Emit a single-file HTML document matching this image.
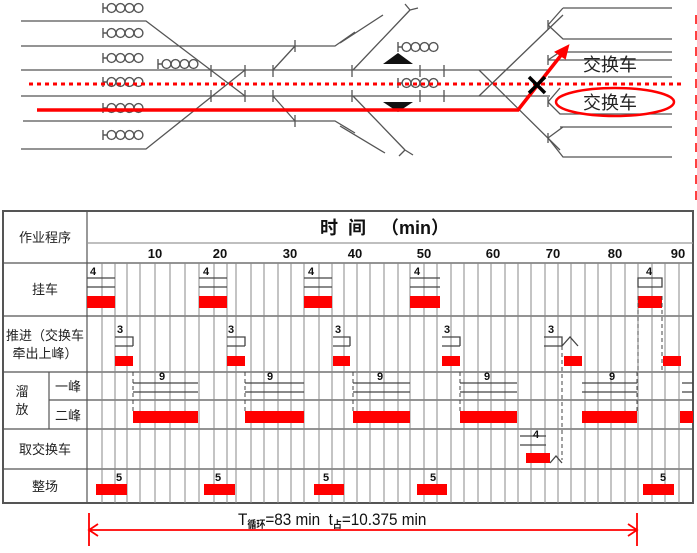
<!DOCTYPE html>
<html><head><meta charset="utf-8"><style>
body{margin:0;background:#fff;width:697px;height:548px;overflow:hidden}
svg text{font-family:"Liberation Sans","Noto Sans CJK SC",sans-serif}
</style></head><body>
<svg width="697" height="548" viewBox="0 0 697 548" xmlns="http://www.w3.org/2000/svg">
<defs><g id="car"><path d="M0,-5v10M0,0h4" stroke="#555" stroke-width="1.4" fill="none"/><circle cx="8.5" cy="0" r="4.4" fill="none" stroke="#555" stroke-width="1.4"/><circle cx="17.5" cy="0" r="4.4" fill="none" stroke="#555" stroke-width="1.4"/><circle cx="26.5" cy="0" r="4.4" fill="none" stroke="#555" stroke-width="1.4"/><circle cx="35.5" cy="0" r="4.4" fill="none" stroke="#555" stroke-width="1.4"/></g></defs>
<g stroke="#555" stroke-width="1.3" fill="none">
<path d="M21,21H146L245,96"/><path d="M21,46H335L355,32"/><path d="M21,70H505"/><path d="M21,96H505"/><path d="M23,121H335L355,133"/><path d="M21,149H146L245,70"/>
<path d="M211,65v12M211,90v12M245,65v12M245,90v12M273,65v12M273,90v12M295,40v12M295,115v12"/>
<path d="M273,70L295,46M273,96L295,121"/>
<path d="M340,43L383,15M340,126L385,153M353,70L410,10M353,96L405,150"/>
<path d="M410,10l-5,-6M410,10l8,-2M405,150l-6,6M405,150l8,5"/>
<path d="M479,70L560,150M479,96L563,15"/>
<path d="M505,70H550M505,96H550"/>
<path d="M563,8H672M548,25L563,39H672M548,25L563,8M548,60H672M548,60L560,52H672M548,77H672M548,102L560,114H672M560,127H672M548,138L563,127M548,138L563,157H672M548,102L560,88"/>
<path d="M548,20v10M548,55v10M548,97v10M548,133v10M420,65v12M420,90v12M444,65v12M444,90v12M352,65v12M352,90v12"/>
</g>
<use href="#car" x="103" y="8"/><use href="#car" x="103" y="33"/><use href="#car" x="103" y="58"/><use href="#car" x="103" y="82"/><use href="#car" x="103" y="108"/><use href="#car" x="103" y="135"/><use href="#car" x="158" y="64"/><use href="#car" x="398" y="47"/><use href="#car" x="398" y="83"/>
<path d="M383,64L398,53L413,64Z M383,102H413L398,112Z" fill="#111"/>
<line x1="29" y1="84" x2="685" y2="84" stroke="#f00" stroke-width="3" stroke-dasharray="4,4"/>
<path d="M37,110H518L562,54" stroke="#f00" stroke-width="3.5" fill="none"/>
<path d="M568,46L556,52L565,58Z" fill="#f00" stroke="#f00" stroke-width="2"/>
<path d="M529,77L545,93M545,77L529,93" stroke="#000" stroke-width="3.5"/>
<text x="583" y="71" font-size="18" fill="#222">交换车</text>
<text x="583" y="109" font-size="18" fill="#222">交换车</text>
<ellipse cx="615" cy="102" rx="59" ry="14" fill="none" stroke="#f00" stroke-width="2.5"/>
<line x1="696" y1="15" x2="696" y2="200" stroke="#f00" stroke-width="1.5" stroke-dasharray="9,7"/>
<rect x="3" y="211" width="690" height="292" fill="none" stroke="#555" stroke-width="2"/>
<g stroke="#555" stroke-width="1.2">
<line x1="87" y1="211" x2="87" y2="503"/>
<line x1="87" y1="243" x2="693" y2="243" stroke="#999"/>
<line x1="3" y1="263" x2="693" y2="263"/><line x1="3" y1="316" x2="693" y2="316"/><line x1="3" y1="372" x2="693" y2="372"/><line x1="49" y1="400" x2="693" y2="400"/><line x1="3" y1="429" x2="693" y2="429"/><line x1="3" y1="469" x2="693" y2="469"/><line x1="49" y1="372" x2="49" y2="429"/>
</g>
<g stroke="#888" stroke-width="1">
<path d="M102,263V503M115,263V503M127,263V503M140,263V503M155,263V503M170,263V503M185,263V503M199,263V503M214,263V503M227,263V503M236,263V503M251,263V503M264,263V503M278,263V503M291,263V503M304,263V503M319,263V503M332,263V503M344,263V503M357,263V503M370,263V503M384,263V503M398,263V503M410,263V503M424,263V503M437,263V503M451,263V503M464,263V503M478,263V503M491,263V503M505,263V503M518,263V503M531,263V503M545,263V503M558,263V503M571,263V503M585,263V503M598,263V503M611,263V503M625,263V503M638,263V503M652,263V503M665,263V503M679,263V503"/>
</g>
<g font-weight="bold" font-size="13" fill="#111" text-anchor="middle">
<text x="155" y="258">10</text><text x="220" y="258">20</text><text x="290" y="258">30</text><text x="355" y="258">40</text><text x="424" y="258">50</text><text x="493" y="258">60</text><text x="553" y="258">70</text><text x="615" y="258">80</text><text x="678" y="258">90</text>
</g>
<text x="320" y="234" font-size="18" font-weight="bold" fill="#111" xml:space="preserve">时  间   （min）</text>
<g font-size="13" fill="#222" text-anchor="middle">
<text x="45" y="242">作业程序</text><text x="45" y="294">挂车</text><text x="45" y="340">推进（交换车</text><text x="45" y="358">牵出上峰）</text>
<text x="22" y="396">溜</text><text x="22" y="414">放</text><text x="68" y="391">一峰</text><text x="68" y="420">二峰</text>
<text x="45" y="454">取交换车</text><text x="45" y="491">整场</text>
</g>
<g fill="#f00">
<rect x="87" y="296" width="28" height="12"/><rect x="199" y="296" width="28" height="12"/><rect x="304" y="296" width="28" height="12"/><rect x="410" y="296" width="30" height="12"/><rect x="638" y="296" width="24" height="12"/>
<rect x="115" y="356" width="18" height="10"/><rect x="227" y="356" width="18" height="10"/><rect x="333" y="356" width="17" height="10"/><rect x="442" y="356" width="18" height="10"/><rect x="564" y="356" width="18" height="10"/><rect x="663" y="356" width="18" height="10"/>
<rect x="133" y="411" width="65" height="12"/><rect x="245" y="411" width="59" height="12"/><rect x="353" y="411" width="57" height="12"/><rect x="460" y="411" width="57" height="12"/><rect x="582" y="411" width="55" height="12"/><rect x="680" y="411" width="13" height="12"/>
<rect x="526" y="453" width="24" height="10"/>
<rect x="96" y="484" width="31" height="11"/><rect x="204" y="484" width="31" height="11"/><rect x="314" y="484" width="30" height="11"/><rect x="417" y="484" width="30" height="11"/><rect x="643" y="484" width="31" height="11"/>
</g>
<g stroke="#444" stroke-width="1.3" fill="none">
<path d="M87,278H115M87,287H115M199,278H227M199,287H227M304,278H332M304,287H332M410,278H440M410,287H440M638,278H662V287H638Z"/>
<path d="M115,337H133V346M115,346H133M227,337H245V346M227,346H245M333,337H350V346M333,346H350M442,337H460V346M442,346H460M544,337H562V346M544,346H562L570,337L578,346"/>
<path d="M133,383H198M133,392H198M245,383H304M245,392H304M353,383H410M353,392H410M460,383H517M460,392H517M582,383H637M582,392H637M682,383H693M682,392H693"/>
<path d="M520,436H546M520,445H546M550,463L556,456L562,463"/>
</g>
<g stroke="#444" stroke-dasharray="4,3" fill="none">
<path d="M133,372V411M245,372V411M353,372V411M460,372V411M637,372V411M562,346V460M638,296V372M662,296V372"/>
</g>
<g font-weight="bold" font-size="11" fill="#111" text-anchor="middle">
<text x="93" y="275">4</text><text x="206" y="275">4</text><text x="311" y="275">4</text><text x="417" y="275">4</text><text x="649" y="275">4</text>
<text x="120" y="333">3</text><text x="231" y="333">3</text><text x="338" y="333">3</text><text x="447" y="333">3</text><text x="551" y="333">3</text>
<text x="162" y="380">9</text><text x="270" y="380">9</text><text x="380" y="380">9</text><text x="487" y="380">9</text><text x="612" y="380">9</text>
<text x="536" y="438">4</text>
<text x="119" y="481">5</text><text x="218" y="481">5</text><text x="326" y="481">5</text><text x="433" y="481">5</text><text x="663" y="481">5</text>
</g>
<g stroke="#f00" stroke-width="1.8" fill="none">
<path d="M89,513V546M637,513V546M89,530H637M98,524L89,530L98,536M628,524L637,530L628,536"/>
</g>
<text x="238" y="525" font-size="17" fill="#111" transform="translate(238,0) scale(0.9,1) translate(-238,0)" xml:space="preserve">T<tspan font-size="10" dy="3" font-weight="bold">循环</tspan><tspan dy="-3">=83 min  t</tspan><tspan font-size="10" dy="3" font-weight="bold">占</tspan><tspan dy="-3">=10.375 min</tspan></text>
</svg>
</body></html>
